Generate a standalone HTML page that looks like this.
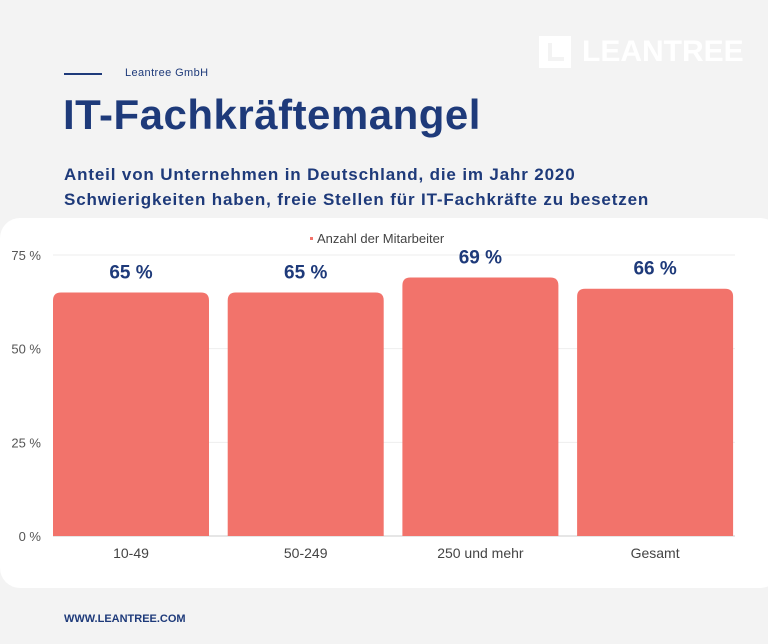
<!DOCTYPE html>
<html><head><meta charset="utf-8"><style>
body{margin:0;width:768px;height:644px;background:#f3f3f3;font-family:"Liberation Sans",sans-serif;position:relative;overflow:hidden}
.abs{position:absolute}
</style></head><body>
<div class="abs" style="left:539px;top:36px;width:210px;height:32px">
  <div style="position:absolute;left:0;top:0;width:32px;height:32px;background:#fff"></div>
  <div style="position:absolute;left:9px;top:7px;width:16px;height:18px;background:#f3f3f3"></div>
  <div style="position:absolute;left:13px;top:7px;width:12px;height:14px;background:#fff"></div>
  <div style="position:absolute;left:43px;top:-1px;font-size:30px;font-weight:bold;color:#fff;letter-spacing:0px">LEANTREE</div>
</div>
<div class="abs" style="left:64px;top:73px;width:38px;height:2px;background:#1e3a7a"></div>
<div class="abs" style="left:125px;top:67px;font-size:11px;color:#1e3a7a;letter-spacing:0.4px">Leantree GmbH</div>
<div class="abs" style="left:63px;top:91px;font-size:42px;font-weight:bold;color:#1e3a7a;letter-spacing:0.5px">IT-Fachkräftemangel</div>
<div class="abs" style="left:64px;top:162px;font-size:17px;font-weight:bold;color:#1e3a7a;line-height:25px;letter-spacing:0.85px">Anteil von Unternehmen in Deutschland, die im Jahr 2020<br>Schwierigkeiten haben, freie Stellen für IT-Fachkräfte zu besetzen</div>
<div class="abs" style="left:0;top:218px;width:780px;height:370px;background:#fff;border-radius:20px"></div>
<svg class="abs" style="left:0;top:0" width="768" height="644" id="chart"></svg>
<div class="abs" style="left:64px;top:613px;font-size:11px;font-weight:bold;color:#1e3a7a;letter-spacing:0px">WWW.LEANTREE.COM</div>
<script>
const categories=["10-49","50-249","250 und mehr","Gesamt"];
const values=[65,65,69,66];
const ticks=[0,25,50,75];
const tickLabels=["0 %","25 %","50 %","75 %"];
const svg=document.getElementById('chart');
const NS="http://www.w3.org/2000/svg";
const x0=53,x1=752,y0=536,y1=255,max=75;
const y=v=>y0-(y0-y1)*v/max;
const step=174.7;
function mk(t,a,txt){const e=document.createElementNS(NS,t);for(const k in a)e.setAttribute(k,a[k]);if(txt!==undefined)e.textContent=txt;svg.appendChild(e);return e;}
ticks.forEach((t,i)=>{
 const g=mk('line',{x1:x0,x2:735,y1:y(t),y2:y(t),stroke:i==0?'#ccc':'#eee','stroke-width':1});
 
 
 const l=mk('text',{x:41,y:y(t)+5,'text-anchor':'end','font-size':13,fill:'#555','font-family':'Liberation Sans, sans-serif'},tickLabels[i]);
 
 
});
categories.forEach((c,i)=>{
 const bw=156,bx=x0+step*i,by=y(values[i]);
 const r=mk('path',{d:`M${bx},${y0}V${by+8}Q${bx},${by} ${bx+8},${by}H${bx+bw-8}Q${bx+bw},${by} ${bx+bw},${by+8}V${y0}Z`,fill:'#f2736b'});
 
 
 const v=mk('text',{x:bx+bw/2,y:by-14,'text-anchor':'middle','font-size':19,'font-weight':'bold',fill:'#1e3a7a','font-family':'Liberation Sans, sans-serif'},values[i]+' %');
 
 
 const cl=mk('text',{x:bx+bw/2,y:558,'text-anchor':'middle','font-size':14,fill:'#444','font-family':'Liberation Sans, sans-serif'},c);
 
 
});
const ld=mk('rect',{x:310,y:237,width:3,height:3,fill:'#f2736b'});


const lt=mk('text',{x:317,y:243,'font-size':13,fill:'#444','font-family':'Liberation Sans, sans-serif'},'Anzahl der Mitarbeiter');


</script>
</body></html>
